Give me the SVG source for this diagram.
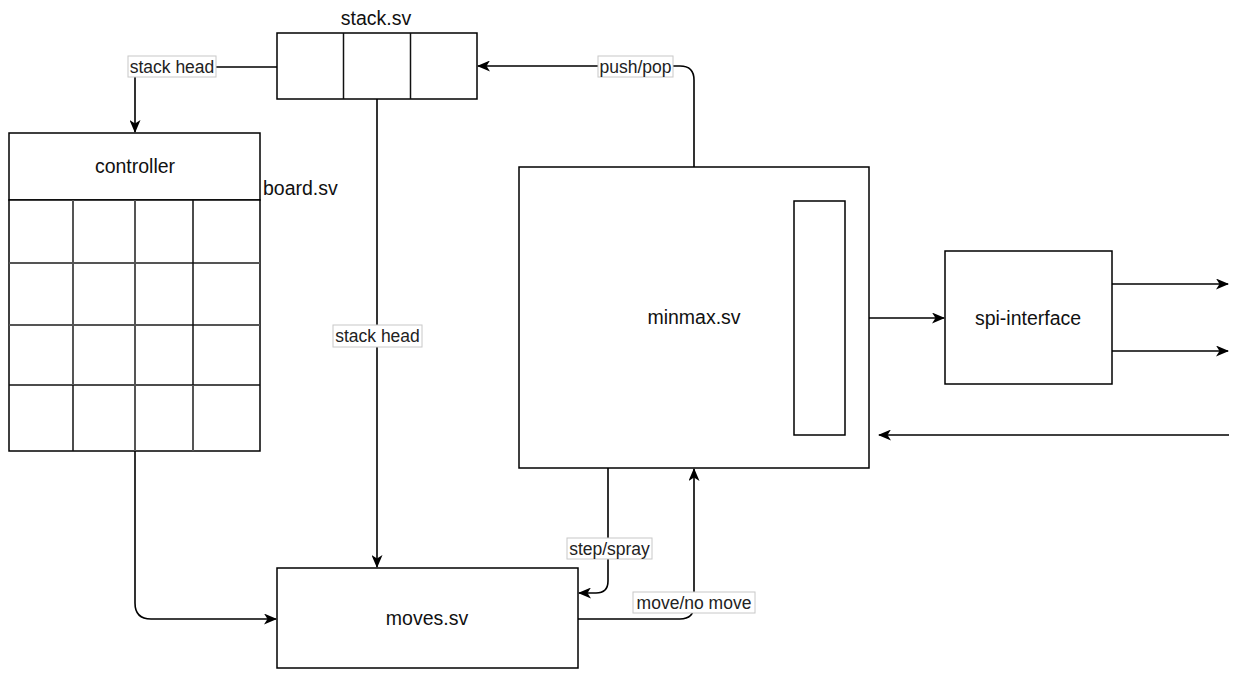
<svg xmlns="http://www.w3.org/2000/svg" width="1239" height="673" viewBox="0 0 1239 673">
<style>
.box{fill:#fff;stroke:#000;stroke-width:1.5}
.grid{stroke:#111;stroke-width:1.5;fill:none}
.gridg{stroke:#555;stroke-width:2;fill:none}
.t{font-family:"Liberation Sans",Arial,sans-serif;font-size:19.5px;fill:#111;text-anchor:middle}
.lt{font-family:"Liberation Sans",Arial,sans-serif;font-size:17.5px;fill:#222;text-anchor:middle}
.lb{fill:#fff;stroke:#c8c8c8;stroke-width:1}
.c{fill:none;stroke:#000;stroke-width:1.6}
</style>
<defs>
<marker id="ah" viewBox="0 0 13 11" refX="12" refY="5.5" markerWidth="13" markerHeight="11" markerUnits="userSpaceOnUse" orient="auto">
<path d="M0,0 L13,5.5 L0,11 L3.5,5.5 Z" fill="#000"/>
</marker>
</defs>
<rect width="1239" height="673" fill="#fff"/>

<g id="stack">
<rect class="box" x="277" y="33" width="200" height="66"/>
<line class="grid" x1="343.5" y1="33" x2="343.5" y2="99"/>
<line class="grid" x1="410.5" y1="33" x2="410.5" y2="99"/>
<text class="t" x="376" y="25">stack.sv</text>
</g>

<g id="board">
<rect class="box" x="9" y="133" width="251" height="67"/>
<text class="t" x="135" y="173">controller</text>
<rect class="box" x="9" y="200" width="251" height="251"/>
<line class="gridg" x1="9" y1="263" x2="260" y2="263"/>
<line class="gridg" x1="9" y1="325" x2="260" y2="325"/>
<line class="grid" x1="9" y1="385" x2="260" y2="385"/>
<line class="gridg" x1="73" y1="200" x2="73" y2="385"/>
<line class="grid" x1="73" y1="385" x2="73" y2="451"/>
<line class="gridg" x1="135" y1="200" x2="135" y2="451"/>
<line class="grid" x1="193" y1="200" x2="193" y2="385"/>
<line class="gridg" x1="193" y1="385" x2="193" y2="451"/>
<text class="t" x="263" y="195" style="text-anchor:start">board.sv</text>
</g>

<g id="minmax">
<rect class="box" x="519" y="167" width="350" height="301"/>
<rect class="box" x="794" y="201" width="51" height="234"/>
<text class="t" x="694" y="324">minmax.sv</text>
</g>

<g id="spi">
<rect class="box" x="945" y="251" width="167" height="133"/>
<text class="t" x="1028" y="325">spi-interface</text>
</g>

<g id="moves">
<rect class="box" x="277" y="568" width="301" height="100"/>
<text class="t" x="427" y="625">moves.sv</text>
</g>

<g id="connectors">
<path class="c" d="M277,67 H135 V132" marker-end="url(#ah)"/>
<path class="c" d="M377,99 V567" marker-end="url(#ah)"/>
<path class="c" d="M694,167 V80 Q694,66 680,66 H478" marker-end="url(#ah)"/>
<path class="c" d="M135,451 V603 Q135,619 151,619 H276" marker-end="url(#ah)"/>
<path class="c" d="M608,468 V581 Q608,593 596,593 H579" marker-end="url(#ah)"/>
<path class="c" d="M578,619 H680 Q694,619 694,605 V469" marker-end="url(#ah)"/>
<path class="c" d="M869,318 H944" marker-end="url(#ah)"/>
<path class="c" d="M1112,284 H1228" marker-end="url(#ah)"/>
<path class="c" d="M1112,351 H1228" marker-end="url(#ah)"/>
<path class="c" d="M1229,435 H879" marker-end="url(#ah)"/>
<rect class="lb" x="128" y="56" width="88" height="21"/>
<text class="lt" x="172" y="72.5">stack head</text>
<rect class="lb" x="333" y="325" width="89" height="22"/>
<text class="lt" x="377.5" y="342">stack head</text>
<rect class="lb" x="598" y="56" width="75" height="21"/>
<text class="lt" x="635.5" y="72.5">push/pop</text>
<rect class="lb" x="567" y="538" width="85" height="21"/>
<text class="lt" x="609.5" y="554.5">step/spray</text>
<rect class="lb" x="633" y="592" width="122" height="21"/>
<text class="lt" x="694" y="608.5">move/no move</text>
</g>
</svg>
